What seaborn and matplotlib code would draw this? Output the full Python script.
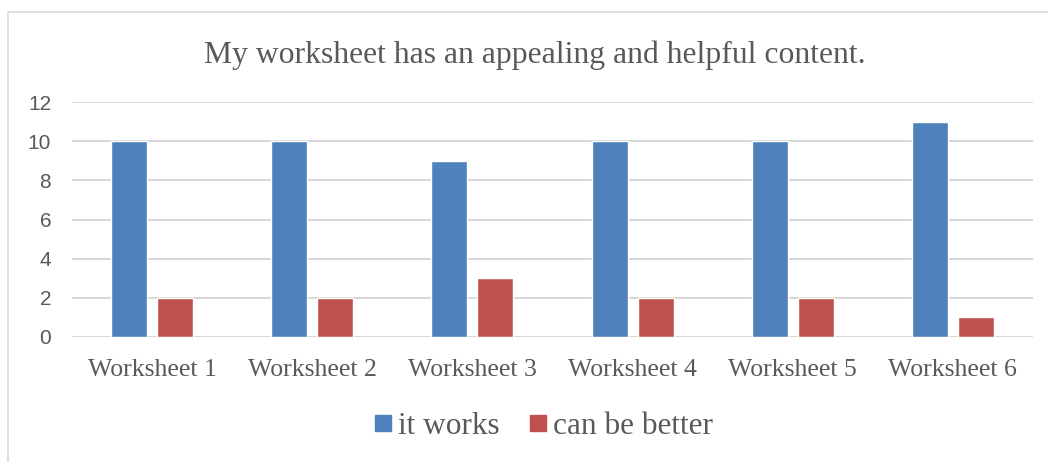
import matplotlib
matplotlib.use("Agg")
import matplotlib.pyplot as plt
import seaborn as sns
import pandas as pd
from matplotlib.patches import Rectangle
from matplotlib.lines import Line2D

categories = ["Worksheet 1", "Worksheet 2", "Worksheet 3", "Worksheet 4", "Worksheet 5", "Worksheet 6"]
it_works = [10, 10, 9, 10, 10, 11]
can_be_better = [2, 2, 3, 2, 2, 1]
series_names = ["it works", "can be better"]
colors = ["#4F81BD", "#C0504D"]
title = "My worksheet has an appealing and helpful content."

df = pd.DataFrame({
    "cat": categories * 2,
    "val": it_works + can_be_better,
    "series": [series_names[0]] * len(categories) + [series_names[1]] * len(categories),
})

sns.set_theme(style="white")
plt.rcParams["font.family"] = ["Liberation Serif", "DejaVu Serif"]

fig = plt.figure(figsize=(10.48, 4.62), dpi=100)
ax = fig.add_axes([72 / 1048, 1 - 337 / 462, (1033 - 72) / 1048, (337 - 102) / 462])

sns.barplot(data=df, x="cat", y="val", hue="series", palette=colors,
            width=0.575, gap=0.22, ax=ax, legend=False, saturation=1)

ax.set_ylim(0, 12)
ax.set_xlim(-0.5, len(categories) - 0.5)
ax.set_yticks(range(0, 13, 2))
ax.grid(axis="y", color="#D4D4D4", linewidth=1.3)
ax.set_axisbelow(True)
for s in ax.spines.values():
    s.set_visible(False)
ax.tick_params(axis="both", length=0)
ax.tick_params(axis="x", pad=16, labelsize=18.5, labelcolor="#595959")
ax.tick_params(axis="y", pad=15, labelsize=15, labelcolor="#595959")
for lbl in ax.get_yticklabels():
    lbl.set_fontfamily(["Liberation Sans", "DejaVu Sans"])
ax.set_xlabel("")
ax.set_ylabel("")

fig.text(535 / 1048, 1 - 55 / 462, title, ha="center", va="center",
         fontsize=22.8, color="#595959")

handles = [Line2D([], [], marker="s", linestyle="", markersize=11,
                  markerfacecolor=c, markeredgecolor=c) for c in colors]
leg = fig.legend(handles, series_names, loc="center", bbox_to_anchor=(541 / 1048, 1 - 426 / 462),
                 ncol=2, frameon=False, fontsize=22.5, handletextpad=0.05, columnspacing=0.75,
                 handlelength=0.9)
for t in leg.get_texts():
    t.set_color("#595959")

fig.patches.append(Rectangle((8 / 1048, -0.01), 1.05, 1 - 12 / 462 + 0.01,
                             transform=fig.transFigure, fill=False,
                             edgecolor="#D9D9D9", linewidth=1.2))

fig.savefig("out.png", dpi=100)
